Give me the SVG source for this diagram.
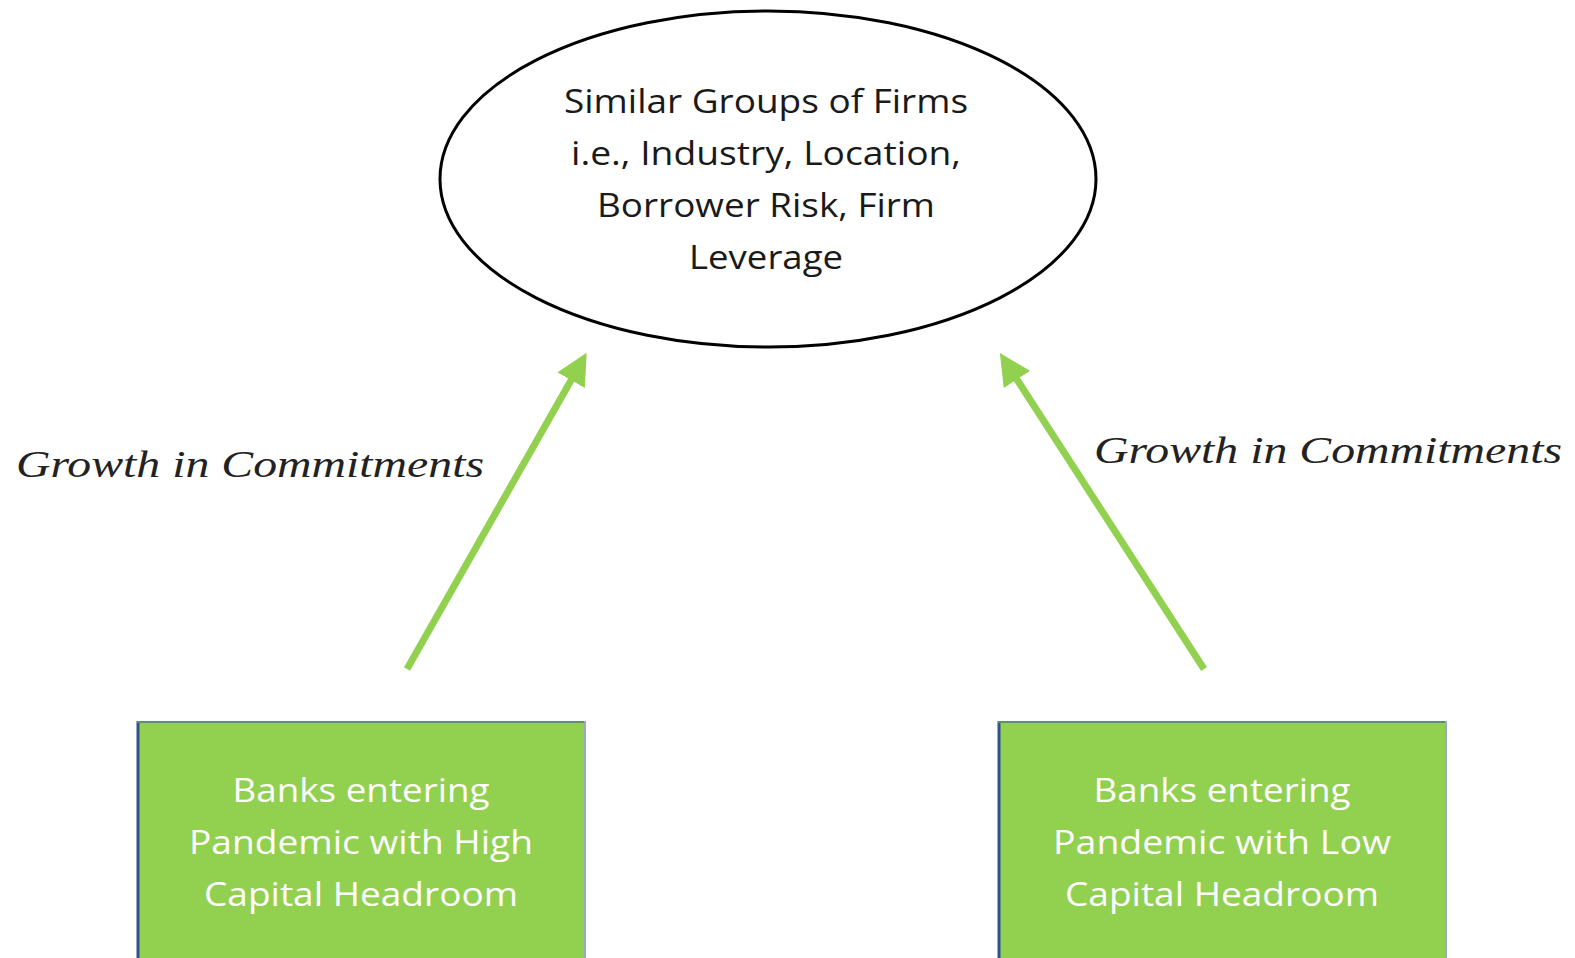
<svg xmlns="http://www.w3.org/2000/svg" width="1575" height="958" viewBox="0 0 1575 958">
  <style>
    .oval-text { font-family: "Open Sans", "Liberation Sans", sans-serif; font-size: 33px; fill: #1a1a1a; text-anchor: middle; }
    .box-text { font-family: "Open Sans", "Liberation Sans", sans-serif; font-size: 33px; fill: #ffffff; text-anchor: middle; }
    .edge-label { font-family: "Liberation Serif", serif; font-style: italic; font-size: 38px; fill: #222222; }
    .box { fill: #92D050; }
    .arrow { stroke: #92D050; stroke-width: 7; fill: none; marker-end: url(#head); }
  </style>
  <defs>
    <marker id="head" viewBox="0 0 10 10" refX="7" refY="5" markerWidth="4.5" markerHeight="4.5" orient="auto" markerUnits="strokeWidth">
      <path d="M0,0 L10,5 L0,10 z" fill="#92D050"/>
    </marker>
  </defs>
  <rect width="1575" height="958" fill="#ffffff"/>

  <g id="firms">
    <ellipse cx="768" cy="179" rx="328" ry="168" fill="#ffffff" stroke="#000000" stroke-width="3"/>
    <text class="oval-text" x="766" y="113" textLength="404" lengthAdjust="spacingAndGlyphs">Similar Groups of Firms</text>
    <text class="oval-text" x="766" y="165" textLength="390" lengthAdjust="spacingAndGlyphs">i.e., Industry, Location,</text>
    <text class="oval-text" x="766" y="217" textLength="338" lengthAdjust="spacingAndGlyphs">Borrower Risk, Firm</text>
    <text class="oval-text" x="766" y="269" textLength="154" lengthAdjust="spacingAndGlyphs">Leverage</text>
  </g>

  <g id="high-headroom">
    <rect class="box" x="137" y="722" width="448" height="240"/>
    <line x1="138" y1="721" x2="138" y2="958" stroke="#2F528F" stroke-width="3"/>
    <line x1="137" y1="722" x2="585" y2="722" stroke="#5F8F6F" stroke-width="2"/>
    <line x1="585" y1="721" x2="585" y2="958" stroke="#9AA8CC" stroke-width="2"/>
    <text class="box-text" x="361" y="802" textLength="257" lengthAdjust="spacingAndGlyphs">Banks entering</text>
    <text class="box-text" x="361" y="854" textLength="344" lengthAdjust="spacingAndGlyphs">Pandemic with High</text>
    <text class="box-text" x="361" y="906" textLength="314" lengthAdjust="spacingAndGlyphs">Capital Headroom</text>
  </g>

  <g id="low-headroom">
    <rect class="box" x="998" y="722" width="448" height="240"/>
    <line x1="999" y1="721" x2="999" y2="958" stroke="#2F528F" stroke-width="3"/>
    <line x1="998" y1="722" x2="1446" y2="722" stroke="#5F8F6F" stroke-width="2"/>
    <line x1="1446" y1="721" x2="1446" y2="958" stroke="#9AA8CC" stroke-width="2"/>
    <text class="box-text" x="1222" y="802" textLength="257" lengthAdjust="spacingAndGlyphs">Banks entering</text>
    <text class="box-text" x="1222" y="854" textLength="338" lengthAdjust="spacingAndGlyphs">Pandemic with Low</text>
    <text class="box-text" x="1222" y="906" textLength="314" lengthAdjust="spacingAndGlyphs">Capital Headroom</text>
  </g>

  <g id="connectors">
    <line class="arrow" x1="407" y1="669" x2="582" y2="361"/>
    <line class="arrow" x1="1204" y1="669" x2="1005" y2="361"/>
    <text class="edge-label" x="16" y="477" textLength="468" lengthAdjust="spacingAndGlyphs">Growth in Commitments</text>
    <text class="edge-label" x="1094" y="463" textLength="468" lengthAdjust="spacingAndGlyphs">Growth in Commitments</text>
  </g>
</svg>
